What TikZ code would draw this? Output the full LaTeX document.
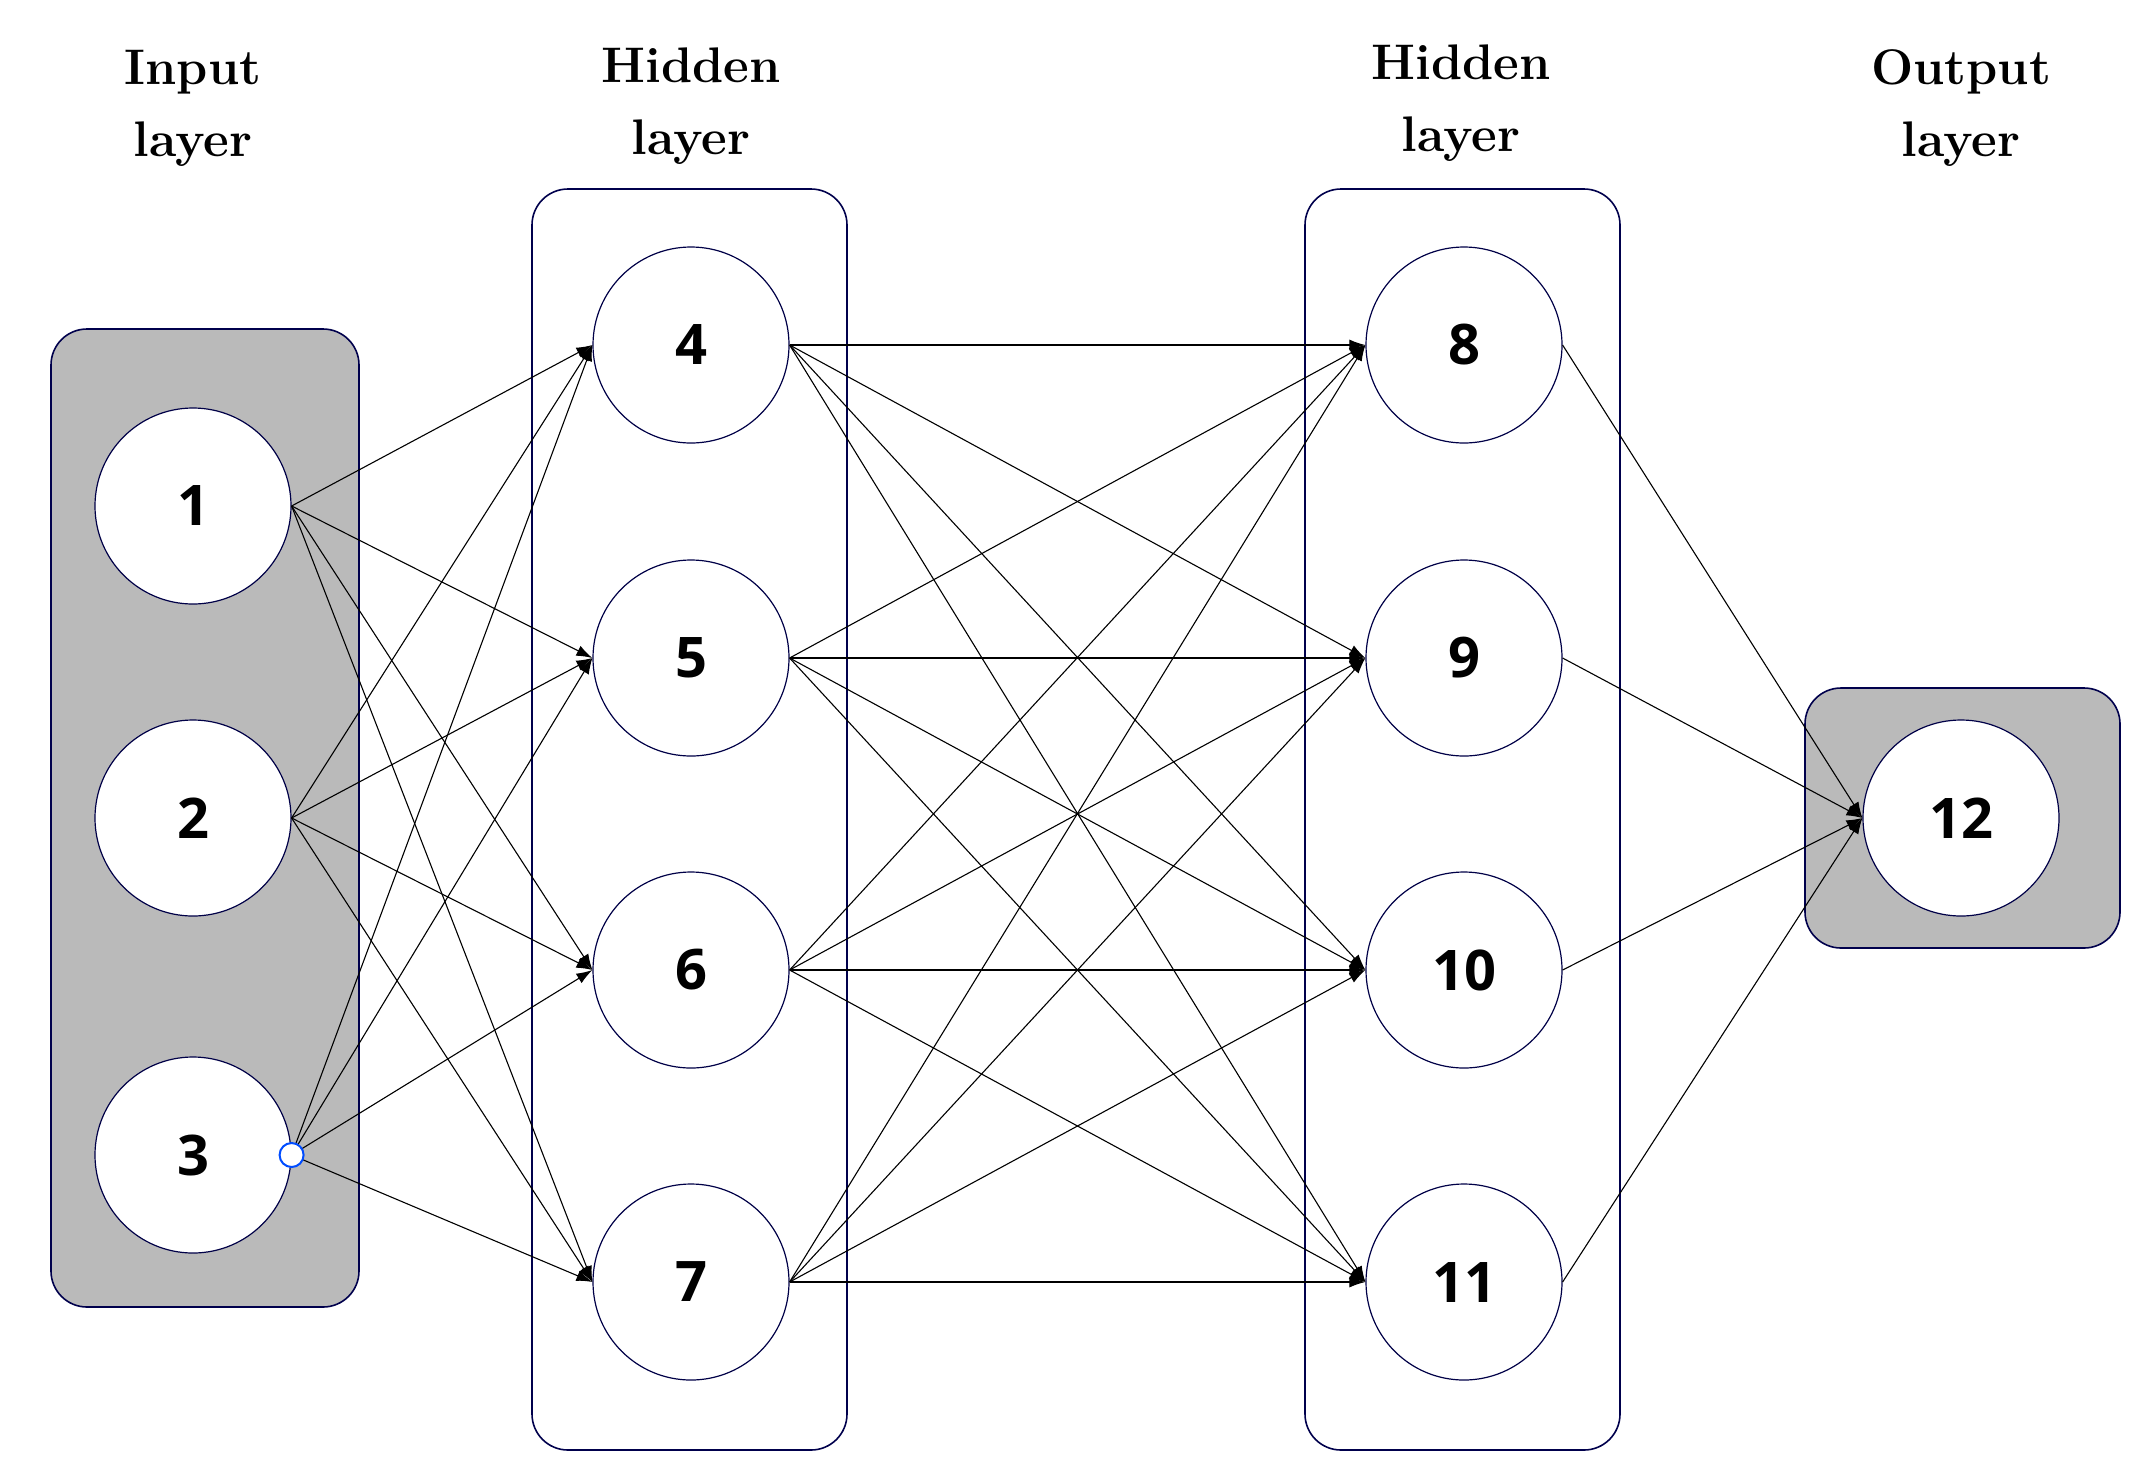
\documentclass[tikz,border=0pt]{standalone}
\usepackage{fontspec}
\newfontfamily\numfont{Open Sans}
\usetikzlibrary{arrows.meta}
\begin{document}
\begin{tikzpicture}[x=1pt,y=-1pt,
  neuron/.style={circle,draw=black!60!blue!70!black,line width=1.2pt,fill=white,minimum size=196pt,inner sep=0pt,font=\numfont\bfseries\fontsize{56}{60}\selectfont},
  grp/.style={rounded corners=36pt,draw=blue!30!black,line width=1.6pt},
  ttl/.style={align=center,font=\bfseries\fontsize{50}{72}\selectfont},
  edge/.style={line width=1.1pt,-{Latex[length=16pt,width=11pt]}}]
\useasboundingbox (0,0) rectangle (2155,1476);
\begin{scope}[xshift=-7pt]
\draw[grp,fill=black!27] (58,329) rectangle (366,1307);
\draw[grp] (539,189) rectangle (854,1450);
\draw[grp] (1312,189) rectangle (1627,1450);
\draw[grp,fill=black!27] (1812,688) rectangle (2127,948);
\node[ttl] (t1) at (200,108) {Input\\layer};
\node[ttl] (t2) at (698,106) {Hidden\\layer};
\node[ttl] (t3) at (1468,103) {Hidden\\layer};
\node[ttl] (t4) at (1968,108) {Output\\layer};
\node[neuron] (n1) at (200,506) {1};
\node[neuron] (n2) at (200,818) {2};
\node[neuron] (n3) at (200,1155) {3};
\node[neuron] (n4) at (698,345) {4};
\node[neuron] (n5) at (698,658) {5};
\node[neuron] (n6) at (698,970) {6};
\node[neuron] (n7) at (698,1282) {7};
\node[neuron] (n8) at (1471,345) {8};
\node[neuron] (n9) at (1471,658) {9};
\node[neuron] (n10) at (1471,970) {10};
\node[neuron] (n11) at (1471,1282) {11};
\node[neuron] (n12) at (1968,818) {12};
\foreach \s in {1,2,3}{\foreach \t in {4,5,6,7}{\draw[edge] (n\s.east) -- (n\t.west);}}
\foreach \s in {4,5,6,7}{\foreach \t in {8,9,10,11}{\draw[edge] (n\s.east) -- (n\t.west);}}
\foreach \s in {8,9,10,11}{\draw[edge] (n\s.east) -- (n12.west);}
\node[circle,draw=blue!70!cyan,fill=white,line width=2pt,minimum size=24pt,inner sep=0pt] (dot) at (n3.east) {};
\end{scope}
\end{tikzpicture}
\end{document}
